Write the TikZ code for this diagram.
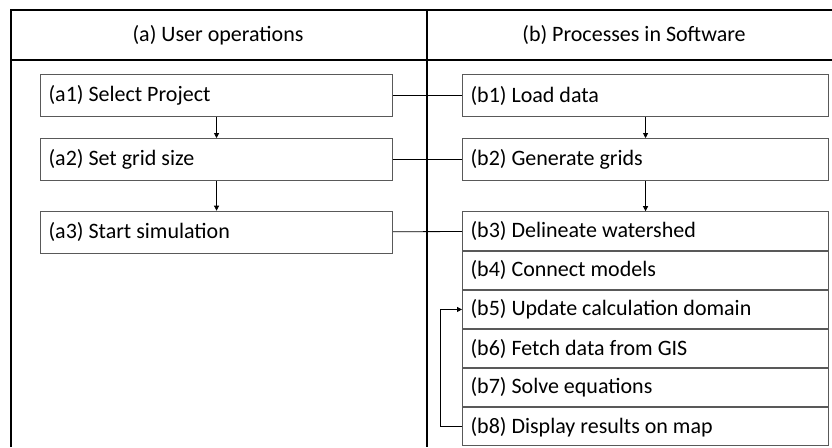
\documentclass[tikz,border=0pt]{standalone}
\usepackage{fontspec}
\setmainfont{Carlito}
\usetikzlibrary{positioning, arrows.meta}

\begin{document}
\begin{tikzpicture}[x=1pt, y=-1pt,
frame/.style={line width=2.8pt},
head/.style={font=\fontsize{22}{24}\selectfont},
opbox/.style={rectangle, draw=black!65, line width=1.1pt, minimum height=42pt, text width=336pt, inner xsep=8pt, inner ysep=0pt, align=left, font=\fontsize{22}{24}\selectfont, execute at begin node={\spaceskip=0pt\xspaceskip=0pt}},
procbox/.style={opbox, text width=350pt},
link/.style={line width=0.8pt},
arr/.style={link, -{Triangle[length=5pt, width=5pt]}},
node distance=21pt]
    \useasboundingbox (0,0) rectangle (832,447);

    % table frame
    \draw[frame] (11,447) -- (11,10) -- (832,10);
    \draw[frame] (11,60) -- (832,60);
    \draw[frame] (427,10) -- (427,447);
    \node[head] (hdra) at (218,35) {(a) User operations};
    \node[head] (hdrb) at (634,35) {(b) Processes in Software};

    % user side
    \node[opbox, anchor=north west] (a1) at (40,74) {(a1) Select Project};
    \node[opbox, below=of a1] (a2) {(a2) Set grid size};
    \node[opbox, below=29.5pt of a2] (a3) {(a3) Start simulation};

    % software side
    \node[procbox, anchor=north west] (b1) at (462,74) {(b1) Load data};
    \node[procbox, below=of b1] (b2) {(b2) Generate grids};
    \node[procbox, below=30pt of b2, minimum height=38.5pt] (b3) {(b3) Delineate watershed};
    \node[procbox, below=0pt of b3, minimum height=38pt] (b4) {(b4) Connect models};
    \node[procbox, below=0pt of b4, minimum height=38pt] (b5) {(b5) Update calculation domain};
    \node[procbox, below=0pt of b5, minimum height=38pt] (b6) {(b6) Fetch data from GIS};
    \node[procbox, below=0pt of b6, minimum height=38pt] (b7) {(b7) Solve equations};
    \node[procbox, below=0pt of b7, minimum height=38pt] (b8) {(b8) Display results on map};

    \draw[arr] (a1) -- (a2);
    \draw[arr] (a2) -- (a3);
    \draw[arr] (b1) -- (b2);
    \draw[arr] (b2) -- (b3);
    \draw[link] (a1) -- (b1);
    \draw[link] (a2) -- (b2);
    \draw[link] (a3) -- (b3);
    \draw[arr] (b8.west) -- ++(-22,0) |- (b5.west);
\end{tikzpicture}
\end{document}
